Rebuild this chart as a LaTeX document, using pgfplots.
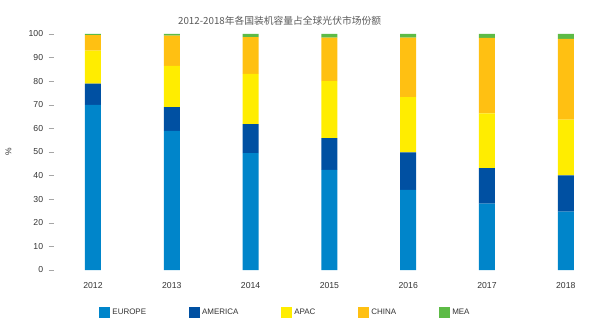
\documentclass[border=0pt]{standalone}
\usepackage{pgfplots}
\pgfplotsset{compat=1.18}
\usepackage{fontspec}
\setmainfont{Liberation Sans}
\newfontfamily\cjk{Noto Sans CJK SC}
\definecolor{ceurope}{HTML}{0085CA}
\definecolor{camerica}{HTML}{0050A2}
\definecolor{capac}{HTML}{FFED00}
\definecolor{cchina}{HTML}{FFC012}
\definecolor{cmea}{HTML}{5DBB46}
\definecolor{txt}{HTML}{333333}
\pgfplotstableread{
x europe america apac china mea
0 70   9    14   6.5  0.5
1 59   10   17.5 12.8 0.7
2 49.5 12.3 21.3 15.6 1.3
3 42.4 13.5 24.1 18.5 1.5
4 34   15.8 23.5 25.2 1.5
5 28.1 15.1 23.2 32.0 1.6
6 24.7 15.4 23.6 34.2 2.1
}\data
\begin{document}
\begin{tikzpicture}
\path[use as bounding box] (-53.6bp,-57bp) rectangle (546.4bp,270bp);
\begin{axis}[
  scale only axis,
  width=543.7bp, height=236bp,
  xmin=-0.5, xmax=6.4, ymin=0, ymax=100,
  ybar stacked, bar width=16bp,
  axis lines*=left,
  axis line style={draw=none},
  xtick=data,
  xticklabels={2012,2013,2014,2015,2016,2017,2018},
  xtick style={draw=none},
  ytick={0,10,...,100},
  ytick style={draw=gray!70, line width=0.5pt},
  tick align=outside,
  major tick length=5bp,
  /pgf/number format/assume math mode=true,
  tick label style={font=\fontsize{8.7}{10}\selectfont, text=txt},
  xticklabel style={yshift=-4bp},
  yticklabel style={xshift=-2bp},
  ylabel={\%},
  ylabel style={font=\fontsize{8.5}{10}\selectfont, text=txt, at={(axis description cs:-0.083,0.5)}, anchor=center},
  legend columns=5,
  legend style={draw=none, at={(axis description cs:0.4265,-0.182)}, anchor=center,
    font=\fontsize{8}{10}\selectfont, text=txt,
    /tikz/every even column/.append style={column sep=41bp}},
  legend image code/.code={\fill[#1] (0bp,-5.5bp) rectangle (11bp,5.5bp);},
  legend cell align=left,
]
\addplot[fill=ceurope, draw=none] table[x=x,y=europe]{\data};
\addplot[fill=camerica, draw=none] table[x=x,y=america]{\data};
\addplot[fill=capac, draw=none] table[x=x,y=apac]{\data};
\addplot[fill=cchina, draw=none] table[x=x,y=china]{\data};
\addplot[fill=cmea, draw=none] table[x=x,y=mea]{\data};
\legend{EUROPE,AMERICA,APAC,CHINA,MEA}
\end{axis}
\node[font=\cjk\fontsize{9.8}{11}\selectfont, text=black!65, anchor=center] at (226bp,249bp) {2012-2018年各国装机容量占全球光伏市场份额};
\end{tikzpicture}
\end{document}
